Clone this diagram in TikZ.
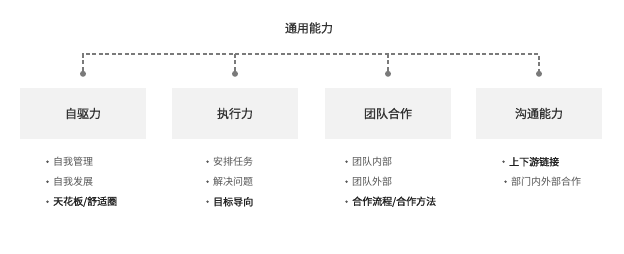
\documentclass[tikz,border=0pt]{standalone}
\usepackage{fontspec}
\setmainfont{Noto Sans CJK SC}
\newfontfamily\cjkmid{Noto Sans CJK SC}[FakeBold=0.8]
\newfontfamily\cjkbold{Noto Sans CJK SC}[FakeBold=1.3]
\definecolor{boxgray}{HTML}{F2F2F2}
\definecolor{linegray}{HTML}{7A7A7A}
\definecolor{textdark}{HTML}{333333}
\definecolor{itemgray}{HTML}{555555}
\definecolor{itemdark}{HTML}{222222}

\begin{document}
\begin{tikzpicture}[x=1pt,y=-1pt,
        box/.style={fill=boxgray, minimum width=126pt, minimum height=51pt, inner sep=0pt,
            text=textdark, font=\cjkmid\fontsize{12}{14}\selectfont},
        hub/.style={circle, fill=linegray, inner sep=0pt, minimum size=6pt},
        bus/.style={draw=linegray, line width=1.5pt, dash pattern=on 4pt off 2.5pt},
        bul/.style={circle, fill=itemgray, inner sep=0pt, minimum size=2.6pt, label distance=4pt},
        item/.style={anchor=west, inner sep=0pt, text=itemgray,
            font=\fontsize{10}{12}\selectfont, label={[bul]left:{}}},
        itembold/.style={item, text=itemdark, font=\cjkbold\fontsize{10}{12}\selectfont}]
        \useasboundingbox (0,0) rectangle (624,254);

        % top
        \node[text=textdark, font=\cjkmid\fontsize{12}{14}\selectfont] (top) at (309,28) {通用能力};
        \coordinate (bus) at (0,54);

        % boxes
        \node[box] (self) at (83,113.5) {自驱力};
        \node[box] (exec) at (235,113.5) {执行力};
        \node[box] (team) at (388,113.5) {团队合作};
        \node[box] (talk) at (539,113.5) {沟通能力};

        \node[hub] (h1) at ([yshift=14pt]self.north) {};
        \node[hub] (h2) at ([yshift=14pt]exec.north) {};
        \node[hub] (h3) at ([yshift=14pt]team.north) {};
        \node[hub] (h4) at ([yshift=14pt]talk.north) {};

        \draw[bus] (h1) -- (h1 |- bus) -- (h4 |- bus) -- (h4);
        \draw[bus] (h2) -- (h2 |- bus);
        \draw[bus] (h3) -- (h3 |- bus);

        % lists
        \node[item] (s1) at (53,161.7) {自我管理};
        \node[item] (s2) at (53,181.7) {自我发展};
        \node[itembold] (s3) at (53,201.7) {天花板/舒适圈};

        \node[item] (e1) at (213,161.7) {安排任务};
        \node[item] (e2) at (213,181.7) {解决问题};
        \node[itembold] (e3) at (213,201.7) {目标导向};

        \node[item] (t1) at (352,161.7) {团队内部};
        \node[item] (t2) at (352,181.7) {团队外部};
        \node[itembold] (t3) at (352,201.7) {合作流程/合作方法};

        \node[itembold] (c1) at (509,161.7) {上下游链接};
        \node[item] (c2) at (511,181.7) {部门内外部合作};
\end{tikzpicture}
\end{document}
